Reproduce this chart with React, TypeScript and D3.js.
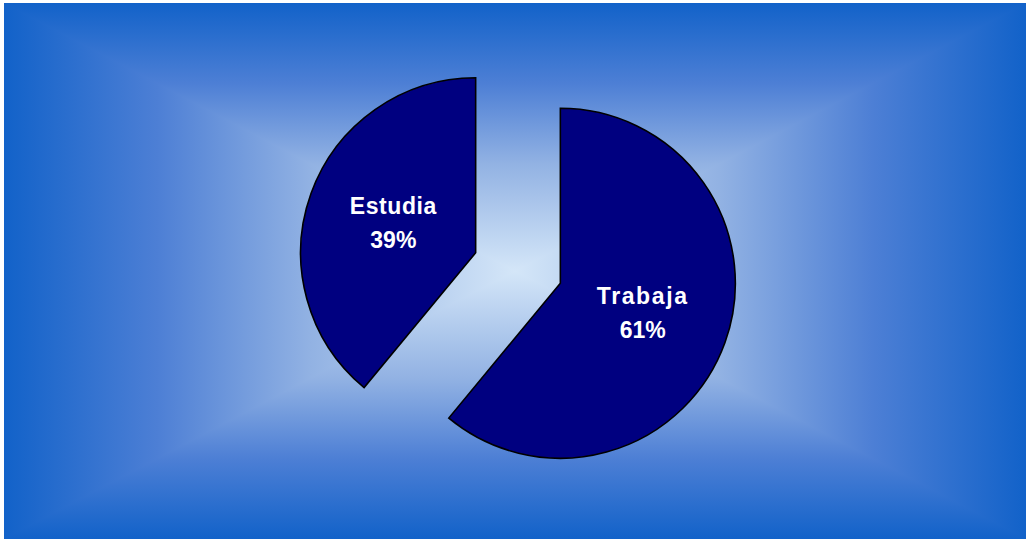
import React, { useEffect, useRef } from 'react';
import * as d3 from 'd3';

const categories = ['Trabaja', 'Estudia'];
const values = [61, 39];
const pctLabels = ['61%', '39%'];

const App: React.FC = () => {
    const ref = useRef<SVGSVGElement>(null);

    const W = 1027;
    const H = 539;
    const box = { x0: 4, y0: 3, x1: 1026, y1: 539 };

    useEffect(() => {
        const svg = d3.select(ref.current);
        svg.selectAll('*').remove();

        const cx = (box.x0 + box.x1) / 2;
        const cy = (box.y0 + box.y1) / 2;

        // rectangular "from centre" gradient
        // full box with vertical edge->centre->edge gradient, then left/right triangles on top
        const defs = svg.append('defs');
        const stops = [
            [0, '#1262c9'],
            [0.3, '#4d7fd5'],
            [0.6, '#92b2e3'],
            [1, '#d4e6f8'],
        ];
        const addGrad = (id, x1, y1, x2, y2, mirror) => {
            const g = defs.append('linearGradient')
                .attr('id', id)
                .attr('gradientUnits', 'userSpaceOnUse')
                .attr('x1', x1).attr('y1', y1)
                .attr('x2', x2).attr('y2', y2);
            const list = mirror
                ? stops.map(s => [(s[0] as number) / 2, s[1]]).concat(stops.slice(0, -1).reverse().map(s => [1 - (s[0] as number) / 2, s[1]]))
                : stops;
            list.forEach(st => {
                g.append('stop').attr('offset', st[0] as number).attr('stop-color', st[1] as string);
            });
        };
        addGrad('gVert', 0, box.y0, 0, box.y1, true);
        addGrad('gLeft', box.x0, 0, cx, 0, false);
        addGrad('gRight', box.x1, 0, cx, 0, false);

        svg.append('rect')
            .attr('x', box.x0).attr('y', box.y0)
            .attr('width', box.x1 - box.x0).attr('height', box.y1 - box.y0)
            .attr('fill', 'url(#gVert)');

        const tris = [
            { id: 'gLeft', pts: [[box.x0, box.y0], [box.x0, box.y1], [cx, cy]] },
            { id: 'gRight', pts: [[box.x1, box.y0], [box.x1, box.y1], [cx, cy]] },
        ];
        tris.forEach(s => {
            svg.append('path')
                .attr('d', 'M' + s.pts.map(p => p.join(',')).join('L') + 'Z')
                .attr('fill', 'url(#' + s.id + ')');
        });

        // Pie
        const r = 175;
        const explode = 45;
        const pcx = 518;
        const pcy = 268;

        const data = categories.map((c, i) => ({ name: c, value: values[i], pct: pctLabels[i] }));
        const pie = d3.pie<any>().sort(null).value(d => d.value);
        const arc = d3.arc<any>().innerRadius(0).outerRadius(r);
        const arcs = pie(data);

        const g = svg.append('g').attr('transform', 'translate(' + pcx + ',' + pcy + ')');

        const slice = g.selectAll('g.slice')
            .data(arcs)
            .enter()
            .append('g')
            .attr('class', 'slice')
            .attr('transform', d => {
                const mid = (d.startAngle + d.endAngle) / 2;
                return 'translate(' + (Math.sin(mid) * explode) + ',' + (-Math.cos(mid) * explode) + ')';
            });

        slice.append('path')
            .attr('d', arc)
            .attr('fill', '#000080')
            .attr('stroke', '#000000')
            .attr('stroke-width', 1.6)
            .attr('stroke-linejoin', 'miter');

        const label = slice.append('text')
            .attr('transform', d => 'translate(' + arc.centroid(d) + ')')
            .attr('text-anchor', 'middle')
            .attr('fill', '#ffffff')
            .attr('font-family', '"Liberation Sans", Arial, sans-serif')
            .attr('font-weight', 'bold')
            .attr('font-size', 23);

        label.append('tspan')
            .attr('x', 0)
            .attr('y', -9)
            .attr('letter-spacing', d => d.data.name === 'Trabaja' ? 1.6 : 0.6)
            .text(d => d.data.name);

        label.append('tspan')
            .attr('x', 0)
            .attr('y', 25)
            .text(d => d.data.pct);
    }, []);

    return (
        <svg
            ref={ref}
            width={W}
            height={H}
            style={{ position: 'absolute', left: 0, top: 0, display: 'block', background: '#ffffff' }}
        />
    );
};

export default App;
